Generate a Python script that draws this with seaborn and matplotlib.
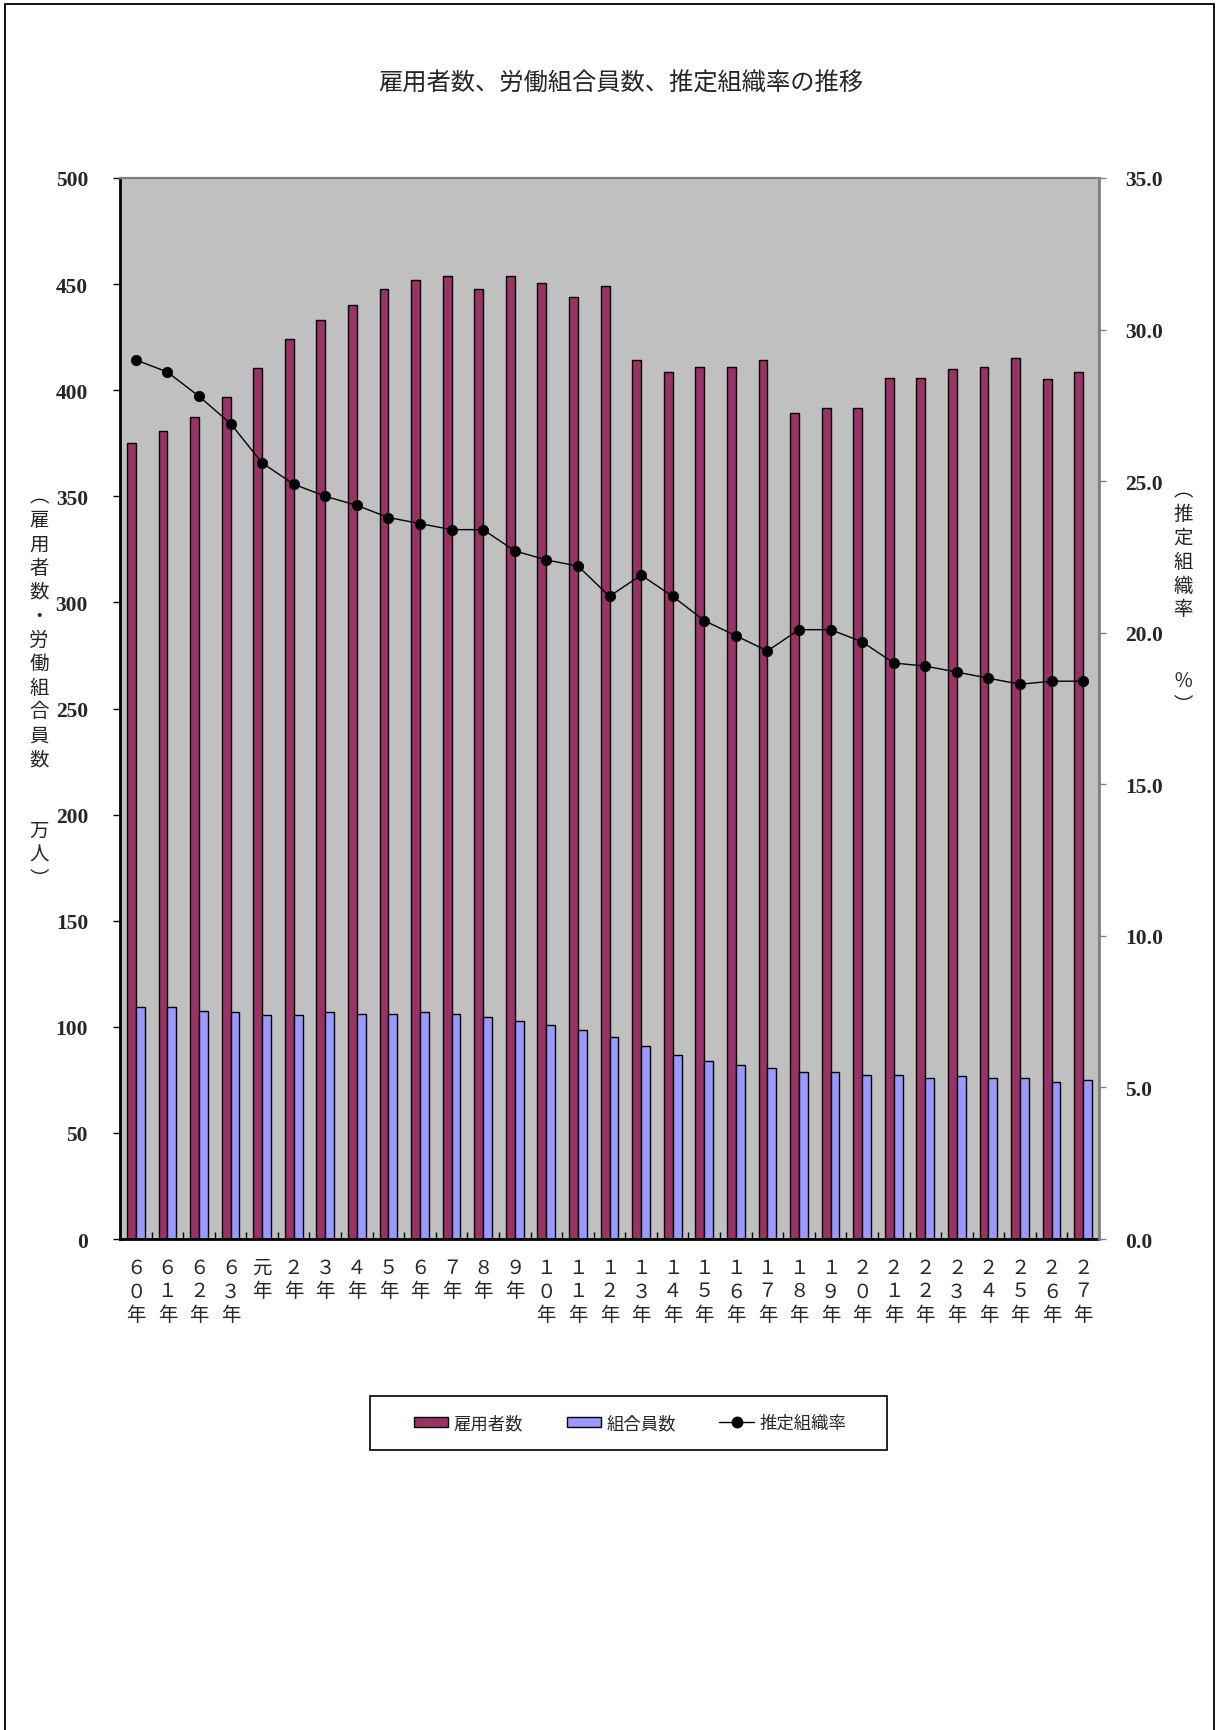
import numpy as np
import pandas as pd
import matplotlib
matplotlib.use("Agg")
import matplotlib.pyplot as plt
from matplotlib.patches import Rectangle, Patch
from matplotlib.lines import Line2D
import seaborn as sns

# 年次ラベル（昭和60年〜平成27年）
years = ["６０年", "６１年", "６２年", "６３年", "元年", "２年", "３年", "４年", "５年",
         "６年", "７年", "８年", "９年", "１０年", "１１年", "１２年", "１３年", "１４年",
         "１５年", "１６年", "１７年", "１８年", "１９年", "２０年", "２１年", "２２年",
         "２３年", "２４年", "２５年", "２６年", "２７年"]

# 雇用者数（万人）
employees = [375.0, 380.8, 387.4, 396.8, 410.3, 424.1, 433.1, 440.2, 447.7, 452.0,
             454.0, 447.7, 454.0, 450.3, 443.9, 449.1, 414.1, 408.8, 410.8, 410.8,
             414.1, 389.1, 391.7, 391.7, 405.6, 405.6, 410.2, 410.8, 415.3, 405.1, 408.8]

# 労働組合員数（万人）
members = [109.1, 109.1, 107.4, 106.8, 105.5, 105.5, 106.8, 106.2, 106.2, 106.8,
           106.2, 104.7, 102.9, 101.0, 98.5, 95.3, 90.9, 86.9, 83.7, 81.8,
           80.6, 78.7, 78.7, 77.3, 77.3, 76.1, 76.7, 76.1, 76.1, 74.2, 74.8]

# 推定組織率（％）
rates = [29.0, 28.6, 27.8, 26.9, 25.6, 24.9, 24.5, 24.2, 23.8, 23.6,
         23.4, 23.4, 22.7, 22.4, 22.2, 21.2, 21.9, 21.2, 20.4, 19.9,
         19.4, 20.1, 20.1, 19.7, 19.0, 18.9, 18.7, 18.5, 18.3, 18.4, 18.4]

series_names = ["雇用者数", "組合員数"]
rate_name = "推定組織率"
colors = {"雇用者数": "#993366", "組合員数": "#9999FF"}

sns.set_theme(style="white")
plt.rcParams["font.family"] = ["Noto Sans CJK JP", "DejaVu Sans"]

W, H = 1216, 1731
fig = plt.figure(figsize=(W / 100, H / 100), dpi=100)

# 外枠
fig.patches.append(Rectangle((4.5 / W, -0.01), (1213.5 - 4.5) / W, 1 - 4.5 / H + 0.01,
                             transform=fig.transFigure, fill=False,
                             edgecolor="black", linewidth=1.3))

ax = fig.add_axes([120 / W, 1 - 1240 / H, (1099 - 120) / W, (1240 - 179) / H])
ax.set_facecolor("#C0C0C0")

df = pd.DataFrame({
    "year": years * 2,
    "series": [series_names[0]] * len(years) + [series_names[1]] * len(years),
    "value": employees + members,
})
sns.barplot(data=df, x="year", y="value", hue="series", order=years,
            hue_order=series_names, palette=colors, width=0.56, saturation=1,
            edgecolor="black", linewidth=1, errorbar=None, legend=False, ax=ax)

ax.set_xlim(-0.5, len(years) - 0.5)
ax.set_ylim(0, 500)
ax.set_yticks(np.arange(0, 501, 50))
ax.set_xlabel("")
ax.set_ylabel("")

# x軸：区切りに内向きの目盛り、中央に縦書きラベル
ax.set_xticks(np.arange(0.5, len(years) - 1, 1))
ax.set_xticklabels([])
ax.set_xticks(np.arange(len(years)), minor=True)
ax.set_xticklabels(["\n".join(list(y)) for y in years], minor=True)
ax.tick_params(axis="x", which="major", direction="in", length=5, width=1, color="black", bottom=True)
ax.tick_params(axis="x", which="minor", length=0, pad=13, labelsize=14)
for lab in ax.get_xticklabels(minor=True):
    lab.set_linespacing(1.14)
    lab.set_verticalalignment("top")

ax.tick_params(axis="y", which="major", direction="out", length=5, width=1, color="black",
               left=True, pad=18)
ax.set_yticklabels([f"{v:d}" for v in np.arange(0, 501, 50)],
                   fontfamily="Liberation Serif", fontweight="bold", fontsize=15.5)

for side in ["left", "bottom"]:
    ax.spines[side].set_color("black")
    ax.spines[side].set_linewidth(2)
for side in ["top", "right"]:
    ax.spines[side].set_color("#808080")
    ax.spines[side].set_linewidth(1.5)

# 推定組織率（右軸）
ax2 = ax.twinx()
sns.lineplot(x=np.arange(len(years)), y=rates, ax=ax2, color="black", marker="o",
             markersize=7.5, linewidth=1, markeredgecolor="black", markeredgewidth=0.5)
ax2.set_ylim(0, 35)
ax2.set_yticks(np.arange(0, 35.1, 5))
ax2.set_yticklabels([f"{v:.1f}" for v in np.arange(0, 35.1, 5)],
                    fontfamily="Liberation Serif", fontweight="bold", fontsize=15.5)
ax2.tick_params(axis="y", direction="out", length=5, width=1, color="#808080", right=True, pad=14)
ax2.set_xlabel("")
ax2.set_ylabel("")
for side in ["left", "bottom"]:
    ax2.spines[side].set_visible(False)
ax2.spines["right"].set_color("#808080")
ax2.spines["right"].set_linewidth(2)
ax2.spines["top"].set_color("#808080")
ax2.spines["top"].set_linewidth(1.5)

# タイトル
fig.text(621 / W, 1 - 84 / H, "雇用者数、労働組合員数、推定組織率の推移",
         ha="center", va="center", fontsize=17.5)

# 縦書きの軸ラベル
left_label = "︵雇用者数・労働組合員数　　万人︶"
fig.text(39 / W, 1 - 688 / H, "\n".join(list(left_label)), ha="center", va="center",
         fontsize=14, linespacing=1.18)
right_label = "︵推定組織率　　％︶"
fig.text(1183 / W, 1 - 598 / H, "\n".join(list(right_label)), ha="center", va="center",
         fontsize=14, linespacing=1.18)

# 凡例
handles = [Patch(facecolor=colors[series_names[0]], edgecolor="black", linewidth=1),
           Patch(facecolor=colors[series_names[1]], edgecolor="black", linewidth=1),
           Line2D([], [], color="black", marker="o", markersize=7.5, linewidth=1)]
fig.legend(handles, series_names + [rate_name], loc="center",
           bbox_to_anchor=(630 / W, 1 - 1424 / H), ncol=3, frameon=False,
           fontsize=12.5, handlelength=2.0, handleheight=0.55, handletextpad=0.3,
           columnspacing=2.5)
fig.patches.append(Rectangle((370 / W, 1 - 1451 / H), (887 - 370) / W, (1451 - 1397) / H,
                             transform=fig.transFigure, fill=False,
                             edgecolor="black", linewidth=1.2))

fig.savefig("out.png", dpi=100)
